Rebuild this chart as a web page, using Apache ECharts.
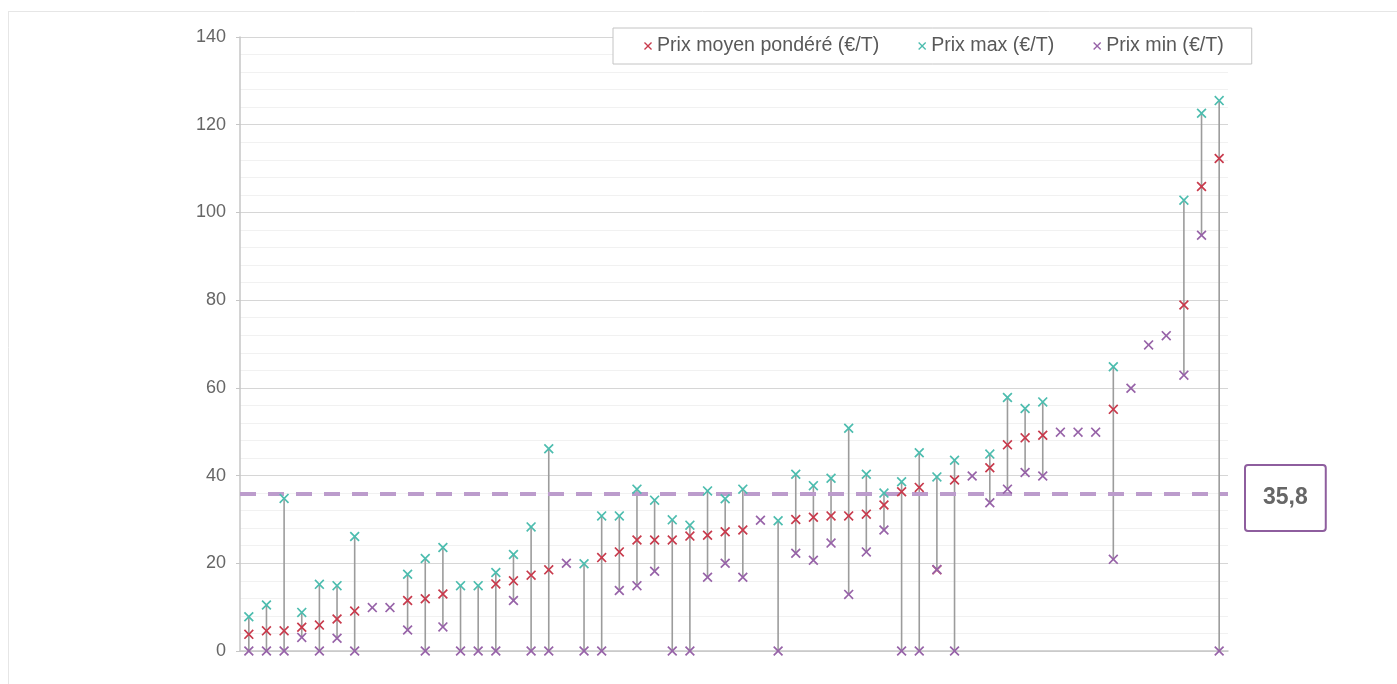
<!DOCTYPE html>
<html>
<head>
<meta charset="utf-8">
<script src="https://cdn.jsdelivr.net/npm/echarts@6/dist/echarts.min.js"></script>
<style>
  html, body { margin: 0; padding: 0; background: #fff; }
  #chart { width: 1397px; height: 684px; }
</style>
</head>
<body>
<div id="chart"></div>
<script>
// valeurs (€/T), une colonne par catégorie
const categories = [];
for (let i = 1; i <= 56; i++) categories.push(String(i));

const meanVals = [3.8, 4.6, 4.6, 5.4, 5.9, 7.3, 9.1, null, null, 11.5,
    11.9, 13.0, null, null, 15.3, 16.0, 17.3, 18.5, null, null,
    21.3, 22.6, 25.3, 25.3, 25.3, 26.2, 26.4, 27.2, 27.6, null,
    null, 30.0, 30.5, 30.8, 30.8, 31.2, 33.3, 36.3, 37.3, 18.5,
    39.0, null, 41.8, 47.0, 48.6, 49.2, null, null, null, 55.1,
    null, null, null, 78.9, 105.9, 112.3];

const maxVals = [7.8, 10.5, 34.8, 8.8, 15.2, 14.9, 26.1, null, null, 17.5,
    21.1, 23.6, 14.9, 14.9, 17.9, 22.0, 28.3, 46.1, null, 19.9,
    30.8, 30.8, 36.9, 34.4, 29.9, 28.7, 36.5, 34.7, 36.9, null,
    29.7, 40.3, 37.7, 39.4, 50.8, 40.3, 36.0, 38.6, 45.2, 39.7,
    43.5, null, 44.9, 57.8, 55.3, 56.8, null, null, null, 64.8,
    null, null, null, 102.8, 122.6, 125.5];

const minVals = [0, 0, 0, 3.1, 0, 2.9, 0, 9.9, 9.9, 4.8,
    0, 5.5, 0, 0, 0, 11.5, 0, 0, 20.0, 0,
    0, 13.8, 14.9, 18.2, 0, 0, 16.8, 20.0, 16.8, 29.8,
    0, 22.3, 20.7, 24.6, 12.9, 22.6, 27.6, 0, 0, 18.6,
    0, 39.9, 33.8, 36.9, 40.7, 39.9, 49.9, 49.9, 49.9, 20.9,
    59.9, 69.8, 71.9, 62.9, 94.8, 0];

const moyenne = 35.8;
const yTicks = [0, 20, 40, 60, 80, 100, 120, 140];

// croix utilisée comme marqueur
const crossPath = 'path://M0,1.2L1.2,0L5,3.8L8.8,0L10,1.2L6.2,5L10,8.8L8.8,10L5,6.2L1.2,10L0,8.8L3.8,5Z';
const font = 'Liberation Sans, Arial, sans-serif';

let rangeData = [];
for (let i = 0; i < categories.length; i++) {
    if (maxVals[i] !== null) rangeData.push([i, minVals[i], maxVals[i]]);
}

let chart = echarts.init(document.getElementById('chart'));

let options = {
    animation: false,
    grid: { left: 240, right: 169, top: 37, bottom: 33 },
    graphic: [
        { type: 'line', shape: { x1: 8, y1: 11.5, x2: 1397, y2: 11.5 }, style: { stroke: '#e6e6e6', lineWidth: 1 } },
        { type: 'line', shape: { x1: 8.5, y1: 11, x2: 8.5, y2: 684 }, style: { stroke: '#e6e6e6', lineWidth: 1 } }
    ],
    legend: {
        data: ['Prix moyen pondéré (€/T)', 'Prix max (€/T)', 'Prix min (€/T)'],
        left: 613,
        top: 28,
        padding: [8, 28, 8, 31],
        itemGap: 39,
        itemWidth: 8,
        itemHeight: 8,
        borderColor: '#c4c4c4',
        borderWidth: 1,
        backgroundColor: '#fff',
        textStyle: { fontFamily: font, fontSize: 19.6, color: '#595959' }
    },
    xAxis: {
        type: 'category',
        data: categories,
        axisLine: { lineStyle: { color: '#c6c6c6', width: 1.5 } },
        axisTick: { show: false },
        axisLabel: { show: false },
        splitLine: { show: false }
    },
    yAxis: {
        type: 'value',
        min: yTicks[0],
        max: yTicks[yTicks.length - 1],
        interval: 20,
        axisLine: { show: true, lineStyle: { color: '#c6c6c6', width: 1.5 } },
        axisTick: { show: true, length: 4, lineStyle: { color: '#c6c6c6' } },
        axisLabel: { fontFamily: font, fontSize: 18, color: '#666', margin: 14 },
        splitLine: { lineStyle: { color: '#d6d6d6', width: 1 } },
        minorTick: { show: false, splitNumber: 5 },
        minorSplitLine: { show: true, lineStyle: { color: '#f1f1f1', width: 1 } }
    },
    series: [
        {
            name: 'range',
            type: 'custom',
            data: rangeData,
            z: 1,
            silent: true,
            renderItem: function (params, api) {
                let p1 = api.coord([api.value(0), api.value(1)]);
                let p2 = api.coord([api.value(0), api.value(2)]);
                return {
                    type: 'line',
                    shape: { x1: p1[0], y1: p1[1], x2: p2[0], y2: p2[1] },
                    style: { stroke: '#9c9c9c', lineWidth: 1.6 }
                };
            }
        },
        {
            name: 'Prix moyen pondéré (€/T)',
            type: 'scatter',
            data: meanVals,
            symbol: crossPath,
            symbolSize: 10,
            z: 3,
            itemStyle: { color: '#c83a4c', opacity: 1 }
        },
        {
            name: 'Prix max (€/T)',
            type: 'scatter',
            data: maxVals,
            symbol: crossPath,
            symbolSize: 10,
            z: 3,
            itemStyle: { color: '#4dbdaf', opacity: 1 }
        },
        {
            name: 'Prix min (€/T)',
            type: 'scatter',
            data: minVals,
            symbol: crossPath,
            symbolSize: 10,
            z: 3,
            itemStyle: { color: '#9763a8', opacity: 1 },
            markLine: {
                silent: true,
                symbol: 'none',
                z: 2,
                lineStyle: { color: '#bc9ccc', width: 4, type: [16, 12], opacity: 1 },
                label: {
                    show: true,
                    position: 'end',
                    distance: 18,
                    offset: [0, 4],
                    formatter: '35,8',
                    fontFamily: font,
                    fontSize: 23,
                    fontWeight: 'bold',
                    color: '#666',
                    lineHeight: 24,
                    backgroundColor: '#fff',
                    borderColor: '#8e5e9e',
                    borderWidth: 2,
                    borderRadius: 2,
                    padding: [20, 17]
                },
                data: [{ yAxis: moyenne }]
            }
        }
    ]
};

chart.setOption(options);
</script>
</body>
</html>
